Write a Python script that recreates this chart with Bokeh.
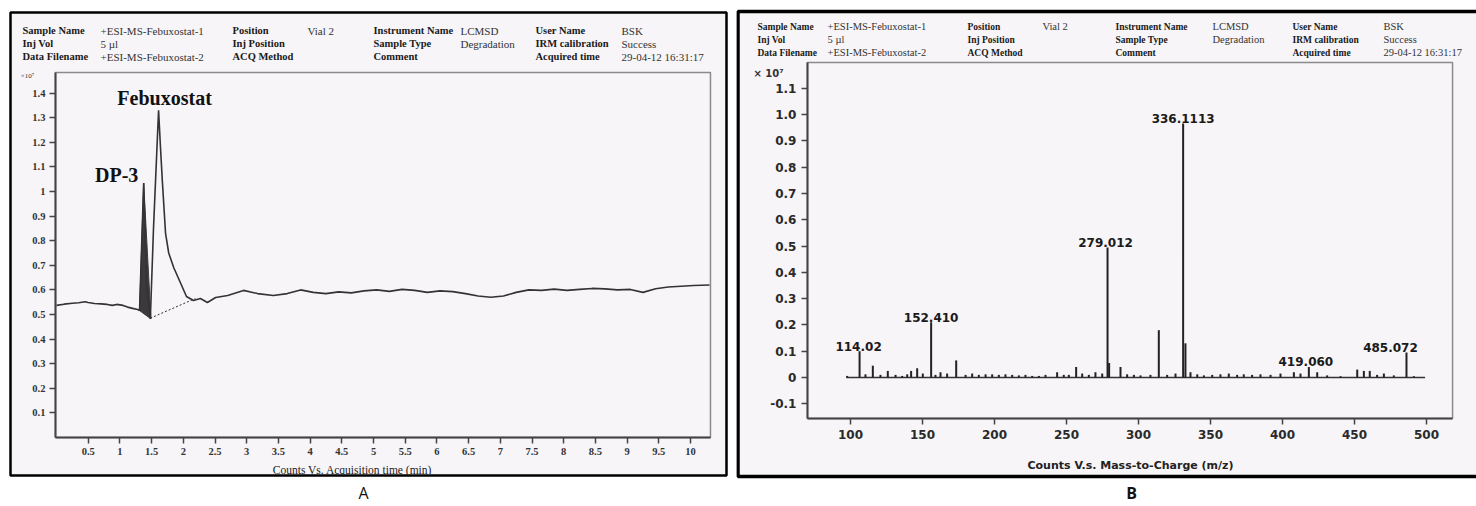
from bokeh.plotting import figure
from bokeh.models import FixedTicker, Label, BoxAnnotation, Range1d, LinearAxis
from bokeh.layouts import row
from bokeh.embed import file_html
from bokeh.resources import INLINE

# ---------------- Panel A : chromatogram ----------------
a_time = [0.00, 0.12, 0.25, 0.35, 0.45, 0.50, 0.60, 0.70, 0.80, 0.88, 0.95, 1.05, 1.12, 1.20,
          1.28, 1.31, 1.375, 1.42, 1.48, 1.53, 1.61, 1.64, 1.67, 1.72, 1.77, 1.85, 1.96, 2.05,
          2.16, 2.27, 2.38, 2.51, 2.70, 2.95, 3.17, 3.42, 3.64, 3.85, 4.05, 4.25, 4.45, 4.65,
          4.85, 5.05, 5.25, 5.45, 5.65, 5.85, 6.05, 6.25, 6.45, 6.65, 6.85, 7.05, 7.25, 7.45,
          7.65, 7.85, 8.05, 8.25, 8.45, 8.65, 8.85, 9.05, 9.25, 9.45, 9.65, 9.85, 10.05, 10.30]
a_counts = [0.537, 0.542, 0.546, 0.548, 0.552, 0.549, 0.545, 0.543, 0.541, 0.537, 0.541, 0.537,
            0.530, 0.525, 0.520, 0.516, 1.034, 0.620, 0.482, 0.850, 1.330, 1.180, 1.040, 0.830,
            0.750, 0.690, 0.626, 0.573, 0.557, 0.565, 0.549, 0.569, 0.577, 0.598, 0.585, 0.577,
            0.585, 0.600, 0.590, 0.585, 0.592, 0.588, 0.596, 0.600, 0.594, 0.602, 0.598, 0.590,
            0.596, 0.593, 0.585, 0.575, 0.570, 0.575, 0.590, 0.600, 0.598, 0.603, 0.598, 0.602,
            0.606, 0.604, 0.600, 0.602, 0.590, 0.605, 0.612, 0.615, 0.618, 0.620]
a_dp3_time = [1.31, 1.375, 1.49]
a_dp3_counts = [0.516, 1.034, 0.482]
a_baseline_time = [1.48, 2.19]
a_baseline_counts = [0.485, 0.565]
a_peak_names = ["DP-3", "Febuxostat"]
a_peak_time = [1.375, 1.61]
a_peak_counts = [1.034, 1.330]
a_xticks = [0.5, 1, 1.5, 2, 2.5, 3, 3.5, 4, 4.5, 5, 5.5, 6, 6.5, 7, 7.5, 8, 8.5, 9, 9.5, 10]
a_xtick_labels = ["0.5", "1", "1.5", "2", "2.5", "3", "3.5", "4", "4.5", "5", "5.5", "6",
                  "6.5", "7", "7.5", "8", "8.5", "9", "9.5", "10"]
a_yticks = [0.1, 0.2, 0.3, 0.4, 0.5, 0.6, 0.7, 0.8, 0.9, 1.0, 1.1, 1.2, 1.3, 1.4]
a_ytick_labels = ["0.1", "0.2", "0.3", "0.4", "0.5", "0.6", "0.7", "0.8", "0.9", "1",
                  "1.1", "1.2", "1.3", "1.4"]
a_plot_x = [-0.016, 10.315]     # plotted time window
a_plot_y = [0.0, 1.484]         # plotted count window

# ---------------- Panel B : mass spectrum ----------------
b_mz = [97.7, 106.3, 110.4, 115.5, 120.8, 125.9, 131.3, 135.9, 139.4, 142.1, 146.3, 150.2,
        156.0, 159.0, 162.5, 167.1, 173.4, 179.9, 184.5, 189.1, 193.8, 198.4, 203.0, 207.6,
        212.3, 216.9, 221.5, 226.2, 230.8, 235.4, 243.5, 248.1, 251.6, 256.7, 260.9, 265.5,
        270.1, 274.8, 278.5, 279.6, 287.5, 292.1, 296.8, 301.4, 308.3, 314.1, 319.9, 325.7,
        331.0, 332.6, 336.1, 340.8, 345.4, 351.2, 356.9, 362.7, 368.5, 373.1, 378.9, 384.7,
        391.7, 398.6, 407.9, 412.5, 418.3, 424.1, 431.0, 440.3, 451.9, 456.5, 460.6, 465.7,
        470.4, 477.3, 486.1, 491.2]
b_intensity = [0.006, 0.100, 0.012, 0.045, 0.010, 0.025, 0.010, 0.006, 0.012, 0.025, 0.035,
               0.015, 0.210, 0.010, 0.020, 0.015, 0.065, 0.010, 0.015, 0.010, 0.012, 0.012,
               0.010, 0.012, 0.010, 0.008, 0.010, 0.006, 0.006, 0.010, 0.020, 0.010, 0.010,
               0.040, 0.015, 0.010, 0.020, 0.015, 0.494, 0.055, 0.040, 0.012, 0.010, 0.008,
               0.010, 0.180, 0.010, 0.015, 0.966, 0.130, 0.020, 0.012, 0.008, 0.010, 0.012,
               0.015, 0.010, 0.012, 0.010, 0.012, 0.010, 0.015, 0.020, 0.015, 0.040, 0.020,
               0.008, 0.005, 0.030, 0.025, 0.025, 0.010, 0.015, 0.008, 0.095, 0.005]
b_scan_range = [97.0, 499.0]
b_label_texts = ["114.02", "152.410", "279.012", "336.1113", "419.060", "485.072"]
b_label_mz = [106.3, 156.0, 278.5, 331.0, 418.3, 486.1]
b_xticks = [100, 150, 200, 250, 300, 350, 400, 450, 500]
b_yticks = [-0.1, 0.0, 0.1, 0.2, 0.3, 0.4, 0.5, 0.6, 0.7, 0.8, 0.9, 1.0, 1.1]
b_ytick_labels = ["-0.1", "0", "0.1", "0.2", "0.3", "0.4", "0.5", "0.6", "0.7", "0.8",
                  "0.9", "1.0", "1.1"]
b_plot_x = [70.1, 518.1]
b_plot_y = [-0.156, 1.198]

# header fields (same for both panels)
hdr_col1 = ["Sample Name", "Inj Vol", "Data Filename"]
hdr_val1 = ["+ESI-MS-Febuxostat-1", "5 µl", "+ESI-MS-Febuxostat-2"]
hdr_col2 = ["Position", "Inj Position", "ACQ Method"]
hdr_val2 = ["Vial 2", "", ""]
hdr_col3 = ["Instrument Name", "Sample Type", "Comment"]
hdr_val3 = ["LCMSD", "Degradation", ""]
hdr_col4 = ["User Name", "IRM calibration", "Acquired time"]
hdr_val4 = ["BSK", "Success", "29-04-12 16:31:17"]

TINT = "#f7f5f8"
SERIF = "Liberation Serif"
SANS = "DejaVu Sans"
H = 506


def txt(p, fig_left, x, y, text, size, font, style="normal", align="left",
        baseline="middle", color="#222222"):
    # x, y in page pixels -> canvas pixels of figure p
    p.add_layout(Label(x=x - fig_left, y=y, x_units="canvas", y_units="canvas",
                       text=text, text_font=font, text_font_size=f"{size}px",
                       text_font_style=style, text_align=align, text_baseline=baseline,
                       text_color=color))


def header(p, fig_left, xs, rows, lab_size, val_size):
    cols = [(hdr_col1, hdr_val1), (hdr_col2, hdr_val2), (hdr_col3, hdr_val3), (hdr_col4, hdr_val4)]
    for (labs, vals), (xl, xv) in zip(cols, xs):
        for lab, val, yy in zip(labs, vals, rows):
            txt(p, fig_left, xl, yy, lab, lab_size, SERIF, "bold", color="#1a1a1a")
            if val:
                txt(p, fig_left, xv, yy, val, val_size, SERIF, color="#333333")


def make_axis(ticker_vals, overrides, fixed, bounds, font, size, style, color, standoff):
    ax = LinearAxis(fixed_location=fixed, bounds=tuple(bounds),
                    ticker=FixedTicker(ticks=ticker_vals))
    if overrides:
        ax.major_label_overrides = overrides
    ax.axis_line_color = "#444444"
    ax.axis_line_width = 2
    ax.major_tick_line_color = "#444444"
    ax.major_tick_line_width = 1.5
    ax.major_tick_in = 0
    ax.major_tick_out = 6
    ax.minor_tick_line_color = None
    ax.major_label_text_font = font
    ax.major_label_text_font_size = f"{size}px"
    ax.major_label_text_font_style = style
    ax.major_label_text_color = color
    ax.major_label_standoff = standoff
    return ax


def canvas_fig(width, xr, yr):
    p = figure(width=width, height=H, output_backend="svg", toolbar_location=None,
               x_range=Range1d(*xr), y_range=Range1d(*yr),
               x_axis_location=None, y_axis_location=None, min_border=0,
               border_fill_color="white", background_fill_color="white",
               outline_line_color=None)
    p.grid.visible = False
    return p


def box(p, l, r, t, b, units, fill, lcolor, lw):
    kw = {}
    if units == "canvas":
        kw = dict(left_units="canvas", right_units="canvas", top_units="canvas",
                  bottom_units="canvas")
    p.add_layout(BoxAnnotation(left=l, right=r, top=t, bottom=b, fill_color=fill,
                               fill_alpha=1 if fill else 0, line_color=lcolor, line_alpha=1,
                               line_width=lw, level="underlay", **kw))


# ---------------- figure A (page x 0..736) ----------------
WA = 736
sxA, syA = 63.4, 246.0          # px per minute, px per unit (x1e7)
x0A, y0A = 56.0, 437.0          # page pixel of time 0 / counts 0
pA = canvas_fig(WA, ((0 - x0A) / sxA, (WA - x0A) / sxA), ((y0A - H) / syA, y0A / syA))
box(pA, 10, 726, 12, 475, "canvas", TINT, "black", 2.5)
box(pA, a_plot_x[0], a_plot_x[1], a_plot_y[1], a_plot_y[0], "data", None, "#8a8a8a", 1.5)
pA.add_layout(make_axis(a_xticks, dict(zip(a_xticks, a_xtick_labels)), a_plot_y[0], a_plot_x,
                        SERIF, 10.5, "bold", "#333333", 4), "below")
pA.add_layout(make_axis(a_yticks, dict(zip(a_yticks, a_ytick_labels)), a_plot_x[0], a_plot_y,
                        SERIF, 10.5, "bold", "#333333", 4), "left")

pA.patch(a_dp3_time, a_dp3_counts, fill_color="#3a3a3a", line_color="#3a3a3a", line_width=1)
pA.line(a_baseline_time, a_baseline_counts, line_color="#333333", line_width=1, line_dash="2 2")
pA.line(a_time, a_counts, line_color="#333333", line_width=1.6)

a_label_dx = [-27, 6]
a_label_dy = [8, 12]
for name, t, c, dx, dy in zip(a_peak_names, a_peak_time, a_peak_counts, a_label_dx, a_label_dy):
    pA.add_layout(Label(x=t, y=c, x_offset=dx, y_offset=dy, text=name, text_font=SERIF,
                        text_font_size="20px", text_font_style="bold", text_align="center",
                        text_baseline="alphabetic", text_color="#111111"))

header(pA, 0, [(22, 100), (232, 307), (373, 460), (535, 621)], [30, 43, 56], 10.5, 11)
txt(pA, 0, 27, 75, "×10⁷", 7, SERIF, color="#333333", align="center")
txt(pA, 0, 352, 469, "Counts Vs. Acquisition time (min)", 11.5, SERIF, color="#222222",
    align="center")
txt(pA, 0, 363, 492, "A", 16, "Open Sans", color="#111111", align="center")

# ---------------- figure B (page x 736..1476) ----------------
WB = 740
XB = WA
sxB, syB = 1.44, 263.0          # px per m/z unit, px per unit (x1e7)
x100B, y0B = 850.0, 377.0       # page pixel of m/z 100 / intensity 0
pB = canvas_fig(WB, (100 + (XB - x100B) / sxB, 100 + (XB + WB - x100B) / sxB),
                ((y0B - H) / syB, y0B / syB))
box(pB, 1.5, 780, 11, 476, "canvas", TINT, "black", 3.5)
box(pB, b_plot_x[0], b_plot_x[1], b_plot_y[1], b_plot_y[0], "data", None, "#8a8a8a", 1.5)
pB.add_layout(make_axis(b_xticks, None, b_plot_y[0], b_plot_x, SANS, 12, "bold", "#2a2a2a", 5),
              "below")
pB.add_layout(make_axis(b_yticks, dict(zip(b_yticks, b_ytick_labels)), b_plot_x[0], b_plot_y,
                        SANS, 12, "bold", "#2a2a2a", 5), "left")

pB.line(b_scan_range, [0, 0], line_color="#333333", line_width=1.5)
pB.segment(x0=b_mz, y0=[0] * len(b_mz), x1=b_mz, y1=b_intensity, line_color="#222222",
           line_width=2)

b_label_dx = [-1, 0, -2, 0, -3, -16]
lookup = dict(zip(b_mz, b_intensity))
for t, m, dx in zip(b_label_texts, b_label_mz, b_label_dx):
    pB.add_layout(Label(x=m, y=lookup[m], x_offset=dx, y_offset=5, text=t, text_font=SANS,
                        text_font_size="12px", text_font_style="bold", text_align="center",
                        text_baseline="alphabetic", text_color="#1a1a1a"))

header(pB, XB, [(757, 827), (967, 1042), (1115, 1212), (1292, 1383)], [26, 39, 52], 9.5, 10.5)
txt(pB, XB, 768, 73, "× 10⁷", 10, SANS, "bold", color="#333333", align="center")
txt(pB, XB, 1130, 465, "Counts V.s. Mass-to-Charge (m/z)", 11, SANS, "bold", color="#222222",
    align="center")
txt(pB, XB, 1131, 492, "B", 16, "Open Sans", "bold", color="#111111", align="center")

layout = row(pA, pB)
open("out.html", "w").write(file_html(layout, INLINE))
